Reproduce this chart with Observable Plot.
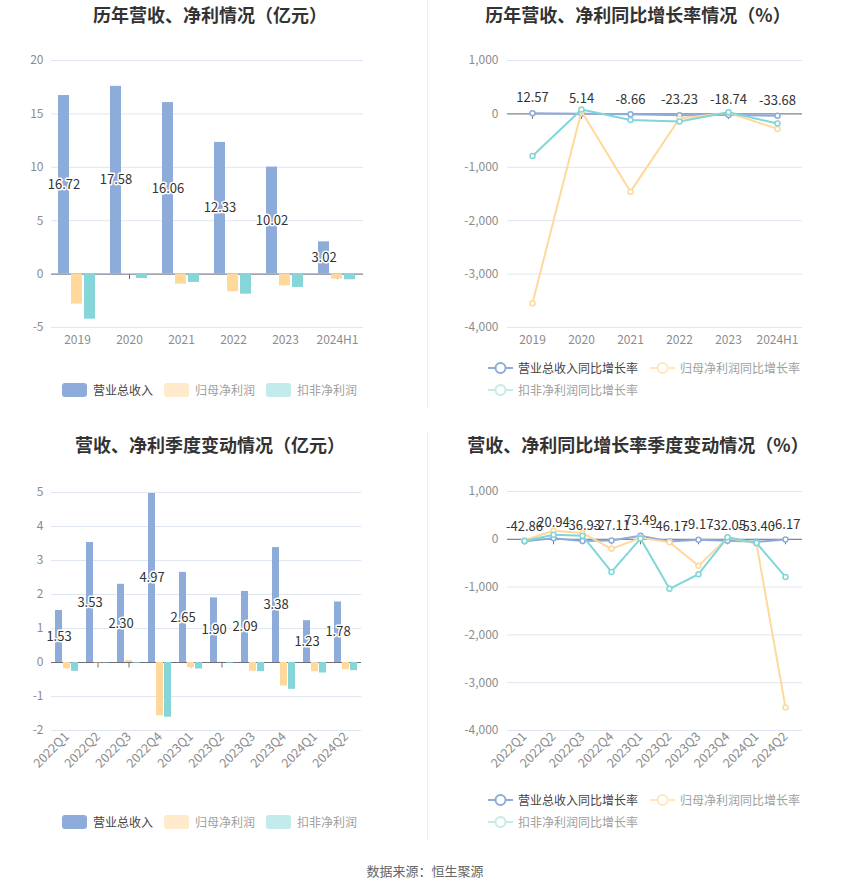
<!DOCTYPE html>
<html>
<head>
<meta charset="utf-8">
<script src="https://cdn.jsdelivr.net/npm/d3@7"></script>
<script src="https://cdn.jsdelivr.net/npm/@observablehq/plot@0.6"></script>
<style>
  body { margin: 0; background: #fff; font-family: "Noto Sans CJK SC", "Noto Sans", sans-serif; }
  #root { position: relative; width: 850px; height: 891px; overflow: hidden; background: #fff; }
  .title { position: absolute; font-size: 18px; font-weight: bold; color: #333; white-space: nowrap; transform: translateX(-50%); line-height: 24px; }
  .legend { position: absolute; display: flex; flex-wrap: wrap; font-size: 12px; line-height: 22px; color: #333; }
  .item { display: flex; align-items: center; white-space: nowrap; }
  .sw { width: 25px; height: 14px; border-radius: 3px; margin-right: 6px; }
  .sep { position: absolute; width: 1px; background: #eeeeee; }
  .footer { position: absolute; left: 425px; top: 861px; transform: translateX(-50%); font-size: 13px; color: #666; white-space: nowrap; }
</style>
</head>
<body>
<div id="root"></div>
<script>
// ---------------- data ----------------
const years = ["2019", "2020", "2021", "2022", "2023", "2024H1"];
const yearRevenue = [16.72, 17.58, 16.06, 12.33, 10.02, 3.02];
const yearNetProfit = [-2.81, 0.05, -0.94, -1.66, -1.10, -0.47];
const yearDeductedProfit = [-4.22, -0.41, -0.78, -1.88, -1.25, -0.53];
const yearRevenueGrowth = [12.57, 5.14, -8.66, -23.23, -18.74, -33.68];
const yearNetProfitGrowth = [-3546, 50, -1456, -87, 20, -281];
const yearDeductedGrowth = [-788, 82, -113, -143, 30, -180];

const quarters = ["2022Q1", "2022Q2", "2022Q3", "2022Q4", "2023Q1", "2023Q2", "2023Q3", "2023Q4", "2024Q1", "2024Q2"];
const qRevenue = [1.53, 3.53, 2.30, 4.97, 2.65, 1.90, 2.09, 3.38, 1.23, 1.78];
const qNetProfit = [-0.19, -0.01, 0.06, -1.57, -0.15, 0.01, -0.26, -0.69, -0.27, -0.21];
const qDeductedProfit = [-0.26, -0.01, -0.02, -1.61, -0.19, -0.02, -0.27, -0.79, -0.31, -0.24];
const qRevenueGrowth = [-42.86, 20.94, -36.93, -27.11, 73.49, -46.17, -9.17, -32.05, -53.40, -6.17];
const qNetProfitGrowth = [-20, 180, 130, -200, 30, -60, -555, 30, -90, -3520];
const qDeductedGrowth = [-35, 97, 76, -682, 15, -1037, -731, 42, -77, -787];

const barTicks = [-5, 0, 5, 10, 15, 20];
const qBarTicks = [-2, -1, 0, 1, 2, 3, 4, 5];
const growthTicks = [-4000, -3000, -2000, -1000, 0, 1000];

const barSeries = ["营业总收入", "归母净利润", "扣非净利润"];
const lineSeries = ["营业总收入同比增长率", "归母净利润同比增长率", "扣非净利润同比增长率"];
const titles = ["历年营收、净利情况（亿元）", "历年营收、净利同比增长率情况（%）", "营收、净利季度变动情况（亿元）", "营收、净利同比增长率季度变动情况（%）"];
const footerText = "数据来源：恒生聚源";

// ---------------- styles ----------------
const FONT = '"Noto Sans CJK SC", "Noto Sans", sans-serif';
const barColors = ["#8eacda", "#ffd89b", "#86d6d9"];
const barLegendColors = ["#8eacda", "#ffebcc", "#c3ebec"];
const lineColors = ["#8eacda", "#ffd89b", "#80d6d8"];
const lineLegendColors = ["#8eacda", "#ffe6bf", "#c3ebec"];
const legendText = ["#444", "#a0a0a0", "#a0a0a0"];
const gridColor = "#e0e6f1";
const axisColor = "#6e7079";
const labelColor = "#8c8c8c";

const fmt2 = v => v.toFixed(2);
const tickSym = { draw(ctx) { ctx.moveTo(0, 0); ctx.lineTo(0, 5); } };

const root = document.getElementById("root");

function place(el, left, top) {
  el.style.position = "absolute";
  el.style.left = left + "px";
  el.style.top = top + "px";
  root.appendChild(el);
}

function barChart(cats, rev, net, ded, o) {
  const rows = cats.flatMap((c, i) => [
    { cat: c, s: barSeries[0], v: rev[i] },
    { cat: c, s: barSeries[1], v: net[i] },
    { cat: c, s: barSeries[2], v: ded[i] }
  ]);
  const labels = cats.map((c, i) => ({ cat: c, s: barSeries[0], v: rev[i] }));
  return Plot.plot({
    width: o.width, height: o.height,
    marginLeft: o.ml, marginRight: o.mr, marginTop: o.mt, marginBottom: o.mb,
    style: { fontFamily: FONT, fontSize: "12px", background: "transparent", overflow: "visible" },
    fx: { domain: cats, padding: 0, label: null },
    x: { domain: barSeries, paddingInner: o.pi, paddingOuter: o.po, axis: null },
    y: { domain: o.yDomain, label: null },
    color: { domain: barSeries, range: barColors },
    marks: [
      Plot.gridY(o.yTicks, { stroke: gridColor, strokeOpacity: 1 }),
      Plot.axisY(o.yTicks, { tickSize: 0, tickPadding: o.yPad, fill: labelColor, fontSize: 12, label: null, tickFormat: d => String(d) }),
      Plot.axisFx({ anchor: "bottom", tickSize: 0, tickPadding: o.xPad, tickRotate: o.rotate || 0, fill: labelColor, fontSize: o.xFont || 12, label: null }),
      Plot.ruleY([0], { stroke: axisColor }),
      Plot.dot(cats, { fx: d => d, y: () => 0, symbol: tickSym, stroke: axisColor, fill: "none", strokeWidth: 1 }),
      Plot.barY(rows, { fx: "cat", x: "s", y: "v", fill: "s", inset: 0 }),
      Plot.text(labels, { fx: "cat", x: "s", y: d => d.v / 2, text: d => fmt2(d.v), fill: "#333", stroke: "white", strokeWidth: 3, paintOrder: "stroke", fontSize: 13 })
    ]
  });
}

function lineChart(cats, g1, g2, g3, o) {
  const sets = [g1, g2, g3].map((vals, k) => cats.map((c, i) => ({ cat: c, v: vals[i], k })));
  const marks = [
    Plot.gridY(growthTicks, { stroke: gridColor, strokeOpacity: 1 }),
    Plot.axisY(growthTicks, { tickSize: 0, tickPadding: 9, fill: labelColor, fontSize: 12, label: null, tickFormat: d => d.toLocaleString("en-US") }),
    Plot.axisX({ anchor: "bottom", tickSize: 0, tickPadding: o.xPad, tickRotate: o.rotate || 0, fill: labelColor, fontSize: o.xFont || 12, label: null }),
    Plot.ruleY([0], { stroke: axisColor }),
    Plot.dot(cats, { x: d => d, y: () => 0, symbol: tickSym, stroke: axisColor, fill: "none", strokeWidth: 1 })
  ];
  sets.forEach((rows, k) => {
    marks.push(Plot.line(rows, { x: "cat", y: "v", stroke: lineColors[k], strokeWidth: 2 }));
    marks.push(Plot.dot(rows, { x: "cat", y: "v", r: 2.5, fill: "white", stroke: lineColors[k], strokeWidth: 1.5 }));
  });
  marks.push(Plot.text(sets[0], { x: "cat", y: "v", dy: -15, text: d => fmt2(d.v), fill: "#333", fontSize: 13 }));
  return Plot.plot({
    width: o.width, height: o.height,
    marginLeft: o.ml, marginRight: o.mr, marginTop: o.mt, marginBottom: o.mb,
    style: { fontFamily: FONT, fontSize: "12px", background: "transparent", overflow: "visible" },
    x: { type: "point", domain: cats, padding: 0.5, label: null },
    y: { domain: [-4000, 1000], label: null },
    marks
  });
}

function barLegend(left, top) {
  const d = document.createElement("div");
  d.className = "legend";
  d.style.gap = "0 11px";
  barSeries.forEach((s, i) => {
    const it = document.createElement("div");
    it.className = "item";
    it.innerHTML = `<div class="sw" style="background:${barLegendColors[i]}"></div><span style="color:${legendText[i]}">${s}</span>`;
    d.appendChild(it);
  });
  place(d, left, top);
}

function lineLegend(left, top) {
  const d = document.createElement("div");
  d.className = "legend";
  d.style.width = "320px";
  d.style.gap = "0 12px";
  lineSeries.forEach((s, i) => {
    const it = document.createElement("div");
    it.className = "item";
    const c = lineLegendColors[i];
    it.innerHTML = `<svg width="25" height="14" style="margin-right:5px"><line x1="0" y1="7" x2="25" y2="7" stroke="${c}" stroke-width="2"/><circle cx="12.5" cy="7" r="5" fill="white" stroke="${c}" stroke-width="2"/></svg><span style="color:${legendText[i]}">${s}</span>`;
    d.appendChild(it);
  });
  place(d, left, top);
}

function title(text, cx, top) {
  const t = document.createElement("div");
  t.className = "title";
  t.textContent = text;
  t.style.left = cx + "px";
  t.style.top = top + "px";
  root.appendChild(t);
}

// separators
[[0, 408], [432, 408]].forEach(([t, h]) => {
  const s = document.createElement("div");
  s.className = "sep";
  s.style.left = "427px"; s.style.top = t + "px"; s.style.height = h + "px";
  root.appendChild(s);
});

title(titles[0], 210, 2);
title(titles[1], 638, 2);
title(titles[2], 210, 432);
title(titles[3], 638, 432);

place(barChart(years, yearRevenue, yearNetProfit, yearDeductedProfit, {
  width: 427, height: 340, ml: 48, mr: 62, mt: 30, mb: 43,
  pi: 2 / 14, po: 0.457, yDomain: [-5, 20], yTicks: barTicks, yPad: 8, xPad: 8
}), 0, 30);

place(lineChart(years, yearRevenueGrowth, yearNetProfitGrowth, yearDeductedGrowth, {
  width: 423, height: 340, ml: 80, mr: 48, mt: 30, mb: 43, xPad: 8
}), 427, 30);

place(barChart(quarters, qRevenue, qNetProfit, qDeductedProfit, {
  width: 427, height: 340, ml: 46, mr: 62, mt: 32, mb: 70,
  pi: 0.15, po: 0.43, yDomain: [-2, 5], yTicks: qBarTicks, yPad: 8, xPad: 4, rotate: -45, xFont: 12.5
}), 0, 460);

place(lineChart(quarters, qRevenueGrowth, qNetProfitGrowth, qDeductedGrowth, {
  width: 423, height: 340, ml: 80, mr: 48, mt: 31, mb: 70, xPad: 4, rotate: -45, xFont: 12.5
}), 427, 460);

barLegend(62, 379);
lineLegend(488, 357);
barLegend(62, 811);
lineLegend(488, 789);

const f = document.createElement("div");
f.className = "footer";
f.textContent = footerText;
root.appendChild(f);
</script>
</body>
</html>
